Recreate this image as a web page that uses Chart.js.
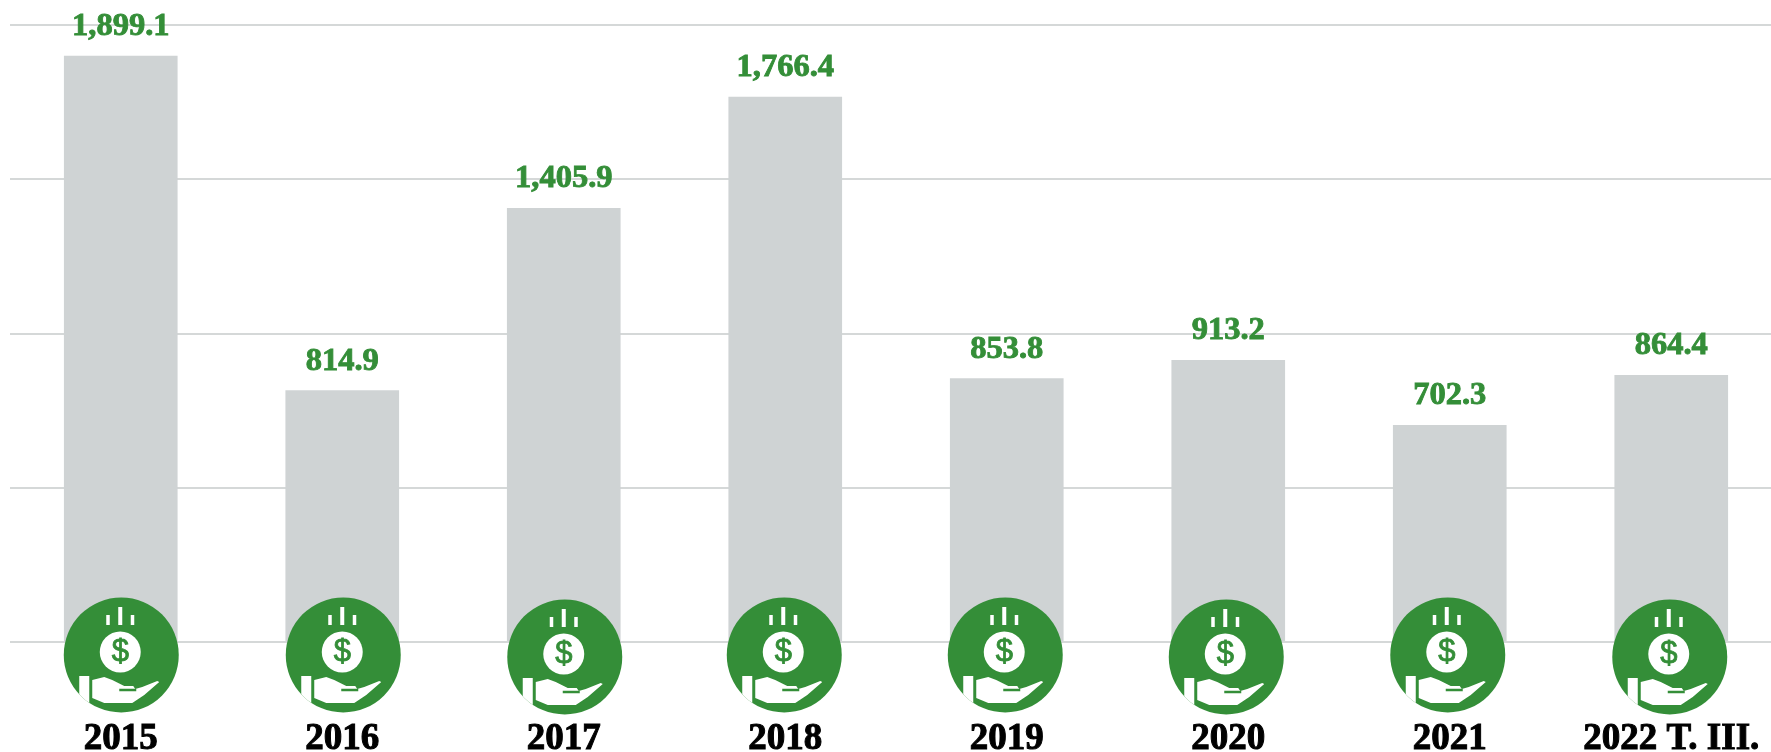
<!DOCTYPE html>
<html>
<head>
<meta charset="utf-8">
<script src="https://cdn.jsdelivr.net/npm/chart.js@4"></script>
<style>
  html, body { margin: 0; padding: 0; background: #fff; overflow: hidden; }
  #wrap { position: relative; width: 1782px; height: 752px; }
</style>
</head>
<body>
<div id="wrap"><canvas id="graph"></canvas></div>
<script>
const categories = ['2015', '2016', '2017', '2018', '2019', '2020', '2021', '2022 T. III.'];
const values = [1899.1, 814.9, 1405.9, 1766.4, 853.8, 913.2, 702.3, 864.4];
const yTicks = [0, 500, 1000, 1500, 2000];

const GREEN = '#348e38';
const GREY = '#cfd3d4';
const GRID = '#d5d8d8';
const SERIF = '"Liberation Serif", serif';

// the icons sit slightly off the bars in the original
const iconDx = [0.5, 1, 1, -1, -1.5, -2, -2, -1.5];
const iconDy = [0, 0, 2, 0, 0, 2, 0, 2];

function drawIcon(ctx, cx, cy) {
  ctx.save();
  ctx.beginPath();
  ctx.arc(cx, cy, 57.5, 0, Math.PI * 2);
  ctx.fillStyle = GREEN;
  ctx.fill();
  ctx.clip();
  ctx.translate(cx, cy);

  // coin
  ctx.fillStyle = '#fff';
  ctx.beginPath();
  ctx.arc(-1, -3, 20.5, 0, Math.PI * 2);
  ctx.fill();
  ctx.fillStyle = GREEN;
  ctx.strokeStyle = GREEN;
  ctx.lineWidth = 0.8;
  ctx.font = '31px "Liberation Sans"';
  ctx.textAlign = 'center';
  ctx.textBaseline = 'middle';
  ctx.fillText('$', -1, -3);
  ctx.strokeText('$', -1, -3);

  // rays
  ctx.fillStyle = '#fff';
  ctx.fillRect(-15, -40, 3.5, 10);
  ctx.fillRect(-3, -48, 4, 18);
  ctx.fillRect(9.5, -40, 3.5, 10);

  // hand
  ctx.fillRect(-42, 21, 10, 40);
  ctx.beginPath();
  ctx.moveTo(-29, 25);
  ctx.lineTo(-17, 22);
  ctx.lineTo(-9, 25);
  ctx.lineTo(3, 31);
  ctx.lineTo(12, 31);
  ctx.lineTo(14, 34);
  ctx.lineTo(21, 32);
  ctx.lineTo(36, 26);
  ctx.lineTo(38, 27);
  ctx.lineTo(23, 40);
  ctx.lineTo(11, 48);
  ctx.lineTo(-17, 48);
  ctx.lineTo(-29, 43);
  ctx.closePath();
  ctx.fill();
  ctx.strokeStyle = GREEN;
  ctx.lineWidth = 2.5;
  ctx.beginPath();
  ctx.moveTo(-2, 35);
  ctx.lineTo(15, 35);
  ctx.stroke();
  ctx.restore();
}

const barExtras = {
  id: 'barExtras',
  afterDatasetsDraw(chart) {
    const ctx = chart.ctx;
    const bars = chart.getDatasetMeta(0).data;
    const y0 = chart.scales.y.getPixelForValue(0);
    ctx.save();
    bars.forEach((bar, i) => {
      ctx.fillStyle = GREEN;
      ctx.strokeStyle = GREEN;
      ctx.lineWidth = 0.9;
      ctx.font = 'bold 32.5px ' + SERIF;
      ctx.textAlign = 'center';
      ctx.textBaseline = 'alphabetic';
      const txt = values[i].toLocaleString('en-US', { minimumFractionDigits: 1 });
      ctx.fillText(txt, bar.x, bar.y - 21);
      ctx.strokeText(txt, bar.x, bar.y - 21);
      drawIcon(ctx, bar.x + iconDx[i], y0 + 13 + iconDy[i]);
    });
    ctx.restore();
  }
};

new Chart(document.getElementById('graph').getContext('2d'), {
  type: 'bar',
  data: {
    labels: categories,
    datasets: [{
      data: values,
      backgroundColor: GREY,
      borderWidth: 0,
      barThickness: 113,
    }],
  },
  options: {
    responsive: true,
    maintainAspectRatio: false,
    animation: false,
    layout: { padding: { left: 10, right: 0, top: 25, bottom: 0 } },
    plugins: { legend: { display: false }, tooltip: { enabled: false } },
    scales: {
      x: {
        grid: { display: false },
        border: { display: false },
        afterFit(axis) {
          axis.height = 110;
          axis.paddingLeft = 0;
          axis.paddingRight = 0;
        },
        ticks: {
          color: '#000',
          font: { family: SERIF, weight: 'bold', size: 37 },
          textStrokeColor: '#000',
          textStrokeWidth: 1,
          padding: 67,
          maxRotation: 0,
          autoSkip: false,
        },
      },
      y: {
        min: 0,
        max: 2000,
        afterBuildTicks(axis) { axis.ticks = yTicks.map(v => ({ value: v })); },
        grid: { color: GRID, lineWidth: 2, drawTicks: false },
        border: { display: false },
        ticks: { display: false },
      },
    },
  },
  plugins: [barExtras],
});
</script>
</body>
</html>
